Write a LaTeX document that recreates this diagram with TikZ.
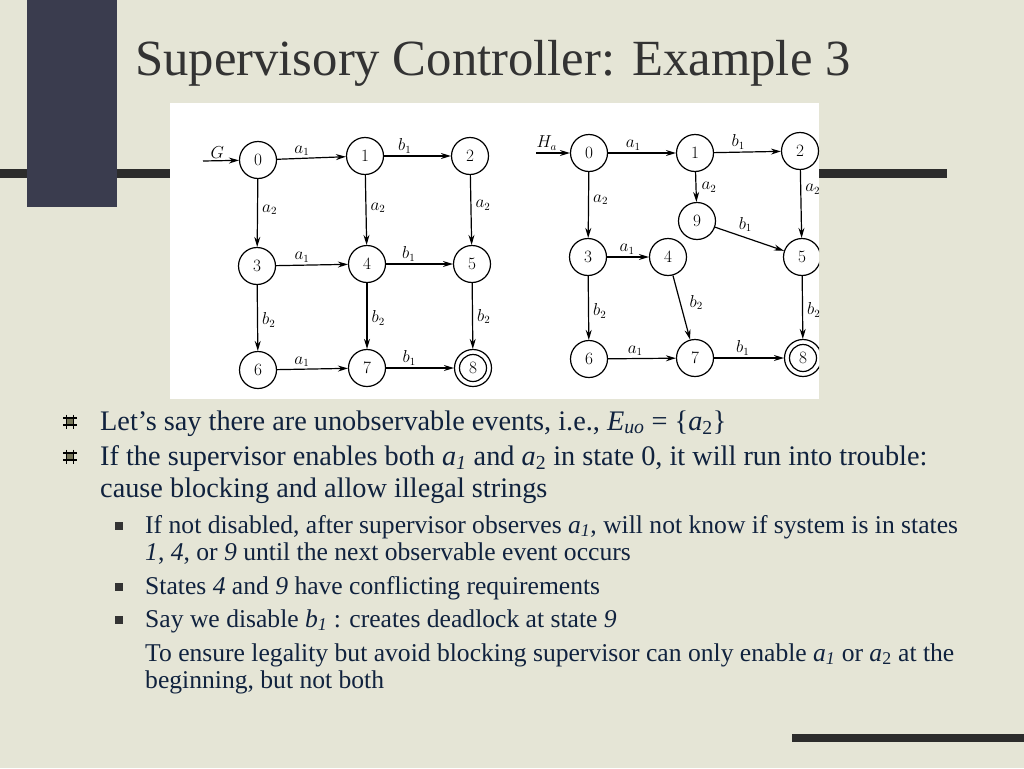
\documentclass[tikz,border=0pt]{standalone}
\usepackage{fontspec}
\setmainfont{Liberation Serif}
\usetikzlibrary{arrows.meta}
\definecolor{slidebg}{RGB}{229,229,214}
\definecolor{navybar}{RGB}{58,60,78}
\definecolor{barcol}{RGB}{44,44,44}
\definecolor{titlecol}{RGB}{51,51,51}
\definecolor{bodycol}{RGB}{16,34,62}
\definecolor{bulletol}{RGB}{118,118,88}
\newcommand{\itsub}[2]{\textit{#1}\textsubscript{\textit{#2}}}
\newcommand{\rmsub}[2]{\textit{#1}\textsubscript{#2}}
\tikzset{
  state/.style={circle,draw,line width=1.2pt,minimum size=37pt,inner sep=0pt,font=\fontsize{17}{17}\selectfont},
  final/.style={state,path picture={\draw[line width=1.2pt] (path picture bounding box.center) circle (13.5pt);}},
  ar/.style={-{Stealth[length=10pt,width=6pt]},line width=1.2pt},
  lab/.style={font=\fontsize{16}{16}\selectfont,inner sep=2pt},
  titletext/.style={anchor=base west,inner sep=0pt,font=\fontsize{50.7}{51}\selectfont,text=titlecol},
  bodytext/.style={anchor=base west,inner sep=0pt,font=\fontsize{28.3}{30}\selectfont,text=bodycol},
  subtext/.style={anchor=base west,inner sep=0pt,font=\fontsize{25.6}{27}\selectfont,text=bodycol},
  hashb/.pic={
    \fill[bulletol] (-3.8,-3.8) rectangle (3.8,3.8);
    \draw[line width=1.3pt,black] (-3.6,-7) -- (-3.6,7) (3.6,-7) -- (3.6,7) (-7,-3.6) -- (7,-3.6) (-7,3.6) -- (7,3.6);
  },
  sqb/.pic={\fill[titlecol] (-4,-4) rectangle (4,4);}
}
\begin{document}
\begin{tikzpicture}[x=1pt,y=-1pt]
\useasboundingbox (0,0) rectangle (1024,768);
% background
\fill[slidebg] (0,0) rectangle (1024,768);
\fill[barcol] (0,169) rectangle (947,178);
\fill[navybar] (27,0) rectangle (117,207);
\fill[barcol] (792,734) rectangle (1024,742);
\fill[white] (170,103) rectangle (819,399);
% title
\node[titletext] (title) at (135,75) {Supervisory Controller: Example 3};
% diagrams
\begin{scope}
\clip (170,103) rectangle (819,399);
% left: G
\node[state] (g0) at (258,160) {$0$};
\node[state] (g1) at (365,156) {$1$};
\node[state] (g2) at (470,156) {$2$};
\node[state] (g3) at (257,266) {$3$};
\node[state] (g4) at (367,264) {$4$};
\node[state] (g5) at (472,264) {$5$};
\node[state] (g6) at (258,370) {$6$};
\node[state] (g7) at (367,368) {$7$};
\node[final] (g8) at (473,368) {$8$};
\coordinate (gin) at (203,161);
\draw[ar] (gin) -- (g0) node[lab,pos=0.4,above] {$G$};
\draw[ar] (g0) -- (g1) node[lab,pos=0.36,above] {$a_1$};
\draw[ar] (g1) -- (g2) node[lab,pos=0.31,above] {$b_1$};
\draw[ar] (g0) -- (g3) node[lab,pos=0.45,right=2pt] {$a_2$};
\draw[ar] (g1) -- (g4) node[lab,pos=0.47,right=2pt] {$a_2$};
\draw[ar] (g2) -- (g5) node[lab,pos=0.43,right=2pt] {$a_2$};
\draw[ar] (g3) -- (g4) node[lab,pos=0.36,above] {$a_1$};
\draw[ar] (g4) -- (g5) node[lab,pos=0.34,above] {$b_1$};
\draw[ar] (g3) -- (g6) node[lab,pos=0.53,right=2pt] {$b_2$};
\draw[ar] (g4) -- (g7) node[lab,pos=0.53,right=2pt] {$b_2$};
\draw[ar] (g5) -- (g8) node[lab,pos=0.51,right=2pt] {$b_2$};
\draw[ar] (g6) -- (g7) node[lab,pos=0.35,above] {$a_1$};
\draw[ar] (g7) -- (g8) node[lab,pos=0.34,above] {$b_1$};
% right: H_a
\node[state] (r0) at (589,153) {$0$};
\node[state] (r1) at (695,153) {$1$};
\node[state] (r2) at (800,151) {$2$};
\node[state] (r9) at (697,221) {$9$};
\node[state] (r3) at (588,257) {$3$};
\node[state] (r4) at (668,257) {$4$};
\node[state] (r5) at (802,257) {$5$};
\node[state] (r6) at (589,359) {$6$};
\node[state] (r7) at (695,358) {$7$};
\node[final] (r8) at (803,358) {$8$};
\coordinate (rin) at (536,153);
\draw[ar] (rin) -- (r0) node[lab,pos=0.32,above] {$H_a$};
\draw[ar] (r0) -- (r1) node[lab,pos=0.37,above] {$a_1$};
\draw[ar] (r1) -- (r2) node[lab,pos=0.36,above] {$b_1$};
\draw[ar] (r1) -- (r9) node[lab,pos=0.5,right=3pt] {$a_2$};
\draw[ar] (r9) -- (r5) node[lab,pos=0.44,above=3pt] {$b_1$};
\draw[ar] (r0) -- (r3) node[lab,pos=0.42,right=2pt] {$a_2$};
\draw[ar] (r2) -- (r5) node[lab,pos=0.28,right=2pt] {$a_2$};
\draw[ar] (r3) -- (r4) node[lab,pos=0.48,above] {$a_1$};
\draw[ar] (r3) -- (r6) node[lab,pos=0.55,right=2pt] {$b_2$};
\draw[ar] (r4) -- (r7) node[lab,pos=0.42,right=7pt] {$b_2$};
\draw[ar] (r5) -- (r8) node[lab,pos=0.54,right=2pt] {$b_2$};
\draw[ar] (r6) -- (r7) node[lab,pos=0.4,above] {$a_1$};
\draw[ar] (r7) -- (r8) node[lab,pos=0.41,above] {$b_1$};
\end{scope}
% bullets
\pic at (70,421.5) {hashb};
\pic at (70,456.5) {hashb};
\node[bodytext] (l1) at (100,430) {Let’s say there are unobservable events, i.e., \itsub{E}{uo} = \{\rmsub{a}{2}\}};
\node[bodytext] (l2) at (100,465) {If the supervisor enables both \itsub{a}{1} and \rmsub{a}{2} in state 0, it will run into trouble:};
\node[bodytext] (l3) at (100,497) {cause blocking and allow illegal strings};
\pic at (119,526) {sqb};
\pic at (119,587) {sqb};
\pic at (119,620) {sqb};
\node[subtext] (s1) at (145,533) {If not disabled, after supervisor observes \itsub{a}{1}, will not know if system is in states};
\node[subtext] (s2) at (145,560) {\textit{1}, \textit{4}, or \textit{9} until the next observable event occurs};
\node[subtext] (s3) at (145,594) {States \textit{4} and \textit{9} have conflicting requirements};
\node[subtext] (s4) at (145,627) {Say we disable \itsub{b}{1} : creates deadlock at state \textit{9}};
\node[subtext] (s5) at (145,661) {To ensure legality but avoid blocking supervisor can only enable \itsub{a}{1} or \rmsub{a}{2} at the};
\node[subtext] (s6) at (145,688) {beginning, but not both};
\end{tikzpicture}
\end{document}
